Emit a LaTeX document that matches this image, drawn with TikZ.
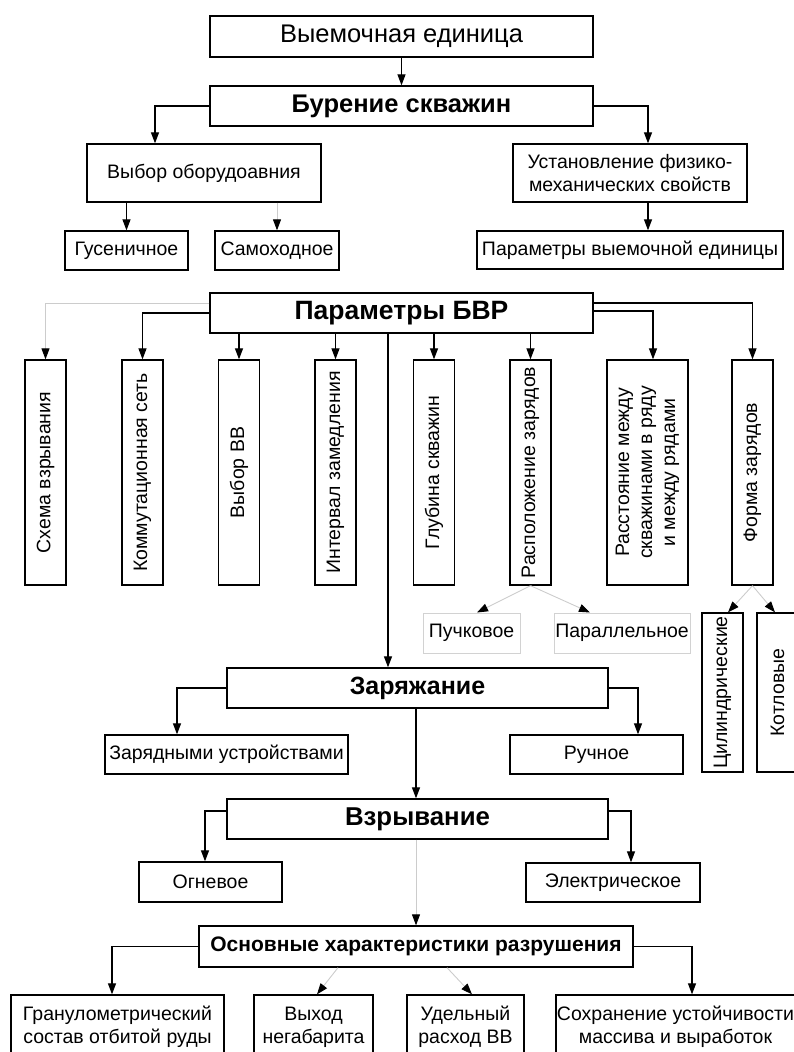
\documentclass[tikz,border=0pt]{standalone}
\usepackage{fontspec}
\setmainfont{Liberation Sans}
\usepackage{graphicx}
\usetikzlibrary{arrows.meta,positioning}

\newcommand{\vtext}[2][225pt]{\rotatebox{90}{\parbox{#1}{\centering #2}}}

\begin{document}
\begin{tikzpicture}[
x=1pt, y=-1pt,
font=\fontsize{19.5}{23}\selectfont,
box/.style={draw, line width=1.3pt, inner sep=0pt, align=center},
lightbox/.style={draw=gray!35, line width=1pt, inner sep=0pt, align=center},
vbox/.style={box, minimum width=41pt, minimum height=225pt},
title/.style={font=\fontsize{25}{29}\selectfont\bfseries},
link/.style={line width=1.2pt, -{Triangle[length=11pt,width=8pt]}},
faint/.style={gray!40, line width=0.9pt, -{Triangle[length=11pt,width=8pt,color=black]}}
]
    % Page frame
    \useasboundingbox (0,0) rectangle (794,1052);
    \clip (0,0) rectangle (794,1052);

    % Drilling
    \node[box, font=\fontsize{25.5}{30}\selectfont, minimum width=383pt, minimum height=41pt] (unit) at (401.5,36.5) {Выемочная единица};
    \node[box, title, font=\fontsize{25.5}{30}\selectfont\bfseries, minimum width=383pt, minimum height=40pt] (drill) at (401.5,106) {Бурение скважин};
    \node[box, minimum width=234pt, minimum height=58pt] (equip) at (204,173) {Выбор оборудоавния};
    \node[box, minimum width=123pt, minimum height=39pt] (track) at (126.5,250.5) {Гусеничное};
    \node[box, minimum width=124pt, minimum height=39pt] (self) at (277,250.5) {Самоходное};
    \node[box, minimum width=234pt, minimum height=58pt] (props) at (630,173) {Установление физико-\\механических свойств};
    \node[box, minimum width=306pt, minimum height=38pt] (param) at (630,250) {Параметры выемочной единицы};

    \draw[link] (unit.south) -- (drill.north);
    \draw[link] (drill.west) -| ([xshift=-49pt]equip.north);
    \draw[link] (drill.east) -| ([xshift=18pt]props.north);
    \draw[link] (equip.south -| track.north) -- (track.north);
    \draw[faint] (equip.south -| self.north) -- (self.north);
    \draw[link] ([xshift=18pt]props.south) -- ([xshift=18pt]param.north);

    % Blasting parameters
    \node[box, font=\fontsize{26.5}{31}\selectfont\bfseries, minimum width=383pt, minimum height=40pt] (bvr) at (401.5,313) {Параметры БВР};
    \node[vbox] (scheme) at (45.5,472.5) {\vtext{Схема взрывания}};
    \node[vbox] (net) at (142.5,472.5) {\vtext{Коммутационная сеть}};
    \node[vbox] (expl) at (239,472.5) {\vtext{Выбор ВВ}};
    \node[vbox] (delay) at (335.5,472.5) {\vtext{Интервал замедления}};
    \node[vbox] (depth) at (434,472.5) {\vtext{Глубина скважин}};
    \node[vbox] (layout) at (530.5,472.5) {\vtext{Расположение зарядов}};
    \node[vbox, minimum width=81pt] (space) at (647.5,472.5) {\vtext{Расстояние между\\скважинами в ряду\\и между рядами}};
    \node[vbox] (form) at (752.5,472.5) {\vtext{Форма зарядов}};

    \draw[faint] ([yshift=10pt]bvr.west) -| (scheme.north);
    \draw[link] (bvr.west) -| (net.north);
    \draw[link] (bvr.south -| expl.north) -- (expl.north);
    \draw[link] (bvr.south -| delay.north) -- (delay.north);
    \draw[link] (bvr.south -| depth.north) -- (depth.north);
    \draw[link] (bvr.south -| layout.north) -- (layout.north);
    \draw[link] ([yshift=2pt]bvr.east) -| ([xshift=5.5pt]space.north);
    \draw[link] ([yshift=10pt]bvr.east) -| (form.north);

    \node[lightbox, minimum width=97pt, minimum height=40pt] (bunch) at (471.5,633) {Пучковое};
    \node[lightbox, minimum width=136pt, minimum height=40pt] (parallel) at (622,633) {Параллельное};
    \node[box, minimum width=41pt, minimum height=159pt] (cyl) at (722.5,692.5) {\vtext[159pt]{Цилиндрические}};
    \node[box, minimum width=41pt, minimum height=159pt] (boiler) at (777.5,692.5) {\vtext[159pt]{Котловые}};

    \draw[faint] (layout.south) -- ([xshift=5.5pt]bunch.north);
    \draw[faint] (layout.south) -- ([xshift=-32pt]parallel.north);
    \draw[faint] (form.south) -- ([xshift=5.5pt]cyl.north);
    \draw[faint] (form.south) -- ([xshift=-2.5pt]boiler.north);

    % Charging
    \node[box, title, minimum width=381pt, minimum height=40pt] (charge) at (417.5,688) {Заряжание};
    \node[box, minimum width=243pt, minimum height=39pt] (device) at (226.5,754.5) {Зарядными устройствами};
    \node[box, minimum width=173pt, minimum height=39pt] (manual) at (596.5,754.5) {Ручное};

    \coordinate (chargein) at ([xshift=-29.5pt]charge.north);
    \draw[link] (bvr.south -| chargein) -- (chargein);
    \draw[link] (charge.west) -| ([xshift=-49.5pt]device.north);
    \draw[link] (charge.east) -| ([xshift=41.5pt]manual.north);

    % Blasting
    \node[box, title, font=\fontsize{25.8}{30}\selectfont\bfseries, minimum width=381pt, minimum height=40pt] (blast) at (417.5,819) {Взрывание};
    \node[box, minimum width=143pt, minimum height=40pt] (fire) at (210.5,882) {Огневое};
    \node[box, minimum width=174pt, minimum height=39pt] (electric) at (613,882.5) {Электрическое};

    \draw[link] ([xshift=-1.5pt]charge.south) -- ([xshift=-1.5pt]blast.north);
    \draw[link] ([yshift=8pt]blast.west) -| ([xshift=-5.5pt]fire.north);
    \draw[link] ([yshift=8pt]blast.east) -| ([xshift=18pt]electric.north);

    % Results
    \node[box, font=\fontsize{21}{25}\selectfont\bfseries, minimum width=434pt, minimum height=41pt] (result) at (416,946.5) {Основные характеристики разрушения};
    \node[box, minimum width=213pt, minimum height=64pt] (grain) at (117.5,1027) {Гранулометрический\\состав отбитой руды};
    \node[box, minimum width=119pt, minimum height=64pt] (oversize) at (313.5,1027) {Выход\\негабарита};
    \node[box, minimum width=117pt, minimum height=64pt] (rate) at (465.5,1027) {Удельный\\расход ВВ};
    \node[box, minimum width=239pt, minimum height=64pt] (stable) at (675.5,1027) {Сохранение устойчивости\\массива и выработок};

    \draw[faint] (blast.south -| result.north) -- (result.north);
    \draw[link] (result.west) -| ([xshift=-5.5pt]grain.north);
    \draw[link] (result.east) -| ([xshift=16.5pt]stable.north);
    \draw[faint] ([xshift=-78pt]result.south) -- ([xshift=3.5pt]oversize.north);
    \draw[faint] ([xshift=31pt]result.south) -- ([xshift=6.5pt]rate.north);
\end{tikzpicture}
\end{document}
